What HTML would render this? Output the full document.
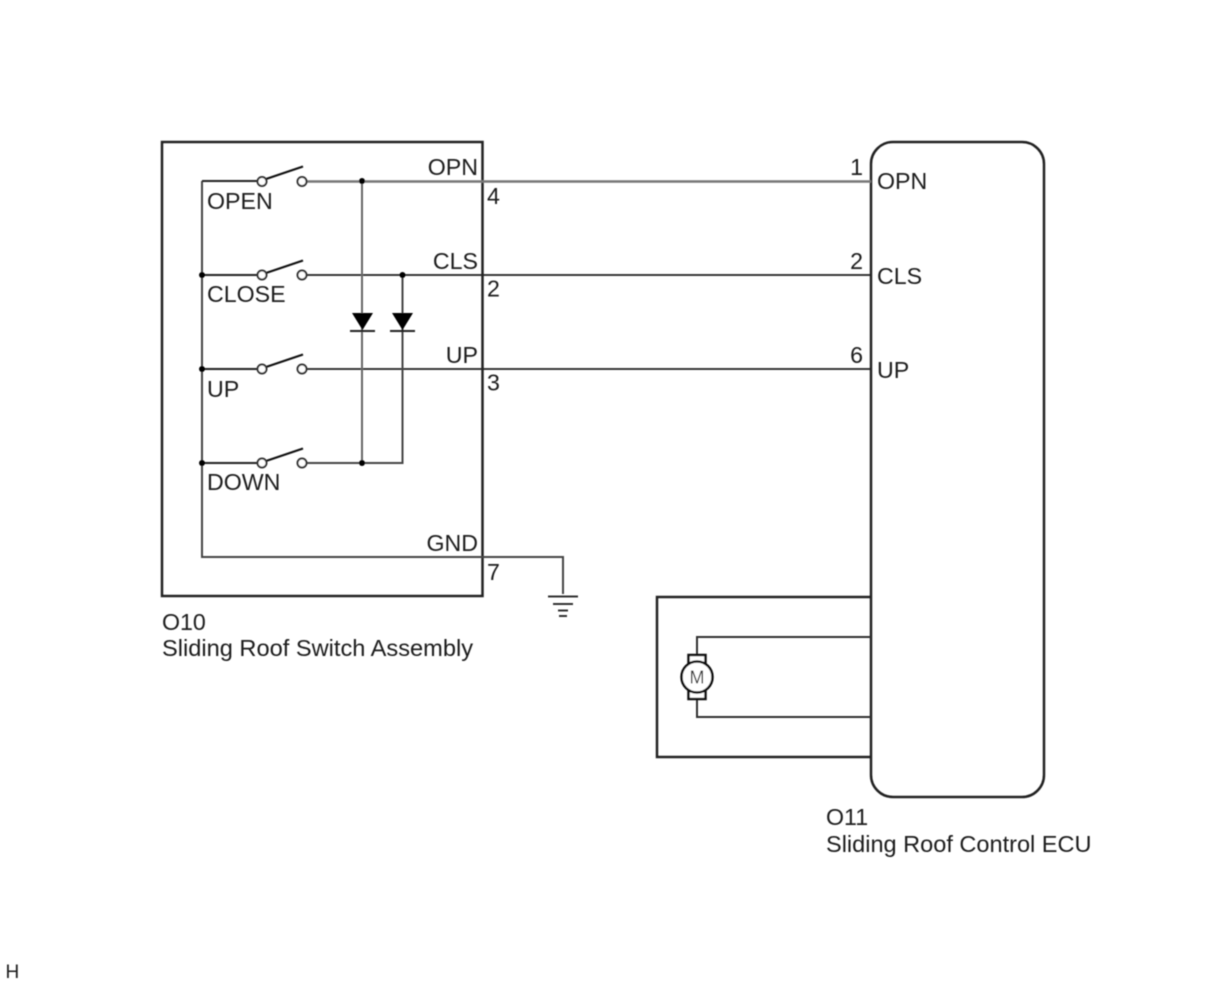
<!DOCTYPE html>
<html>
<head>
<meta charset="utf-8">
<style>
html,body{margin:0;padding:0;background:#fff;width:1210px;height:986px;overflow:hidden}
svg{display:block}
text{font-family:"Liberation Sans",sans-serif;font-size:23.2px;fill:#1c1c1c}
.e{text-anchor:end}
</style>
</head>
<body>
<svg width="1210" height="986" viewBox="0 0 1210 986" xmlns="http://www.w3.org/2000/svg">
<defs><filter id="b" filterUnits="userSpaceOnUse" x="0" y="0" width="1210" height="986"><feGaussianBlur stdDeviation="0.45"/></filter></defs>
<rect width="1210" height="986" fill="#fff"/>
<g filter="url(#b)">
<g fill="none" stroke="#222" stroke-width="2">
  <!-- switch assembly box -->
  <rect x="162" y="142" width="320.500" height="454" stroke-width="2.500"/>
  <!-- ECU box -->
  <rect x="871" y="142" width="173" height="655" rx="22" ry="22" stroke-width="2.500"/>
  <!-- motor box -->
  <path d="M871 597H657V757H871" stroke-width="2.500"/>
  <!-- left bus -->
  <path d="M202 181V557H563V594" stroke="#444"/>
  <!-- switch wires left -->
  <path d="M202 181H257M202 275H257M202 369H257M202 463H257"/>
  <!-- main wires -->
  <path d="M307 181.500H871" stroke="#777" stroke-width="2.500"/>
  <path d="M307 275H871M307 369H871" stroke-width="1.800"/>
  <path d="M307 463H402.500V275" stroke="#444"/>
  <path d="M362 181V463" stroke="#666"/>
  <!-- switch arms -->
  <path d="M266 179L303 166.500M266 273L303 260.500M266 367L303 354.500M266 461L303 448.500" stroke="#111"/>
  <!-- diode bars -->
  <path d="M350 331H375M390 331H415"/>
  <!-- ground -->
  <path d="M548 596.500H578M553 604H573M558 610.500H568M559 616H567" stroke="#333"/>
  <!-- motor wires -->
  <path d="M697 655V637H871M697 699V717H871" stroke="#333"/>
</g>
<!-- terminals -->
<g fill="#fff" stroke="#333" stroke-width="2">
  <circle cx="262" cy="181.500" r="4.500"/><circle cx="302" cy="181.500" r="4.500"/>
  <circle cx="262" cy="275" r="4.500"/><circle cx="302" cy="275" r="4.500"/>
  <circle cx="262" cy="369" r="4.500"/><circle cx="302" cy="369" r="4.500"/>
  <circle cx="262" cy="463" r="4.500"/><circle cx="302" cy="463" r="4.500"/>
</g>
<!-- junctions -->
<g fill="#000">
  <circle cx="362" cy="181" r="3"/>
  <circle cx="402.500" cy="275" r="3"/>
  <circle cx="202" cy="275" r="3"/>
  <circle cx="202" cy="369" r="3"/>
  <circle cx="202" cy="463" r="3"/>
  <circle cx="362" cy="463" r="3"/>
  <path d="M352 313H373L362.500 330Z"/>
  <path d="M392 313H413L402.500 330Z"/>
</g>
<!-- motor -->
<g fill="#fff" stroke="#111" stroke-width="2.500">
  <rect x="688.500" y="655" width="17" height="8"/>
  <rect x="688.500" y="691" width="17" height="8"/>
  <circle cx="697" cy="677" r="15.500"/>
</g>
<text x="697" y="683.500" text-anchor="middle" style="font-size:18px;fill:#333">M</text>
<!-- labels -->
<text class="e" x="478" y="175">OPN</text>
<text class="e" x="478" y="269">CLS</text>
<text class="e" x="478" y="363">UP</text>
<text class="e" x="478" y="551">GND</text>
<text x="487" y="204">4</text>
<text x="487" y="296.500">2</text>
<text x="487" y="390.500">3</text>
<text x="487" y="580">7</text>
<text x="207" y="209">OPEN</text>
<text x="207" y="302">CLOSE</text>
<text x="207" y="397">UP</text>
<text x="207" y="490">DOWN</text>
<text x="162" y="630">O10</text>
<text x="162" y="656" textLength="311" lengthAdjust="spacingAndGlyphs">Sliding Roof Switch Assembly</text>
<text class="e" x="863" y="175">1</text>
<text class="e" x="863" y="269">2</text>
<text class="e" x="863" y="363">6</text>
<text x="877" y="189">OPN</text>
<text x="877" y="284">CLS</text>
<text x="877" y="378">UP</text>
<text x="826" y="825">O11</text>
<text x="826" y="852" textLength="265.500" lengthAdjust="spacingAndGlyphs">Sliding Roof Control ECU</text>
<text x="5.500" y="978" style="font-size:19px">H</text>
</g>
</svg>
</body>
</html>
